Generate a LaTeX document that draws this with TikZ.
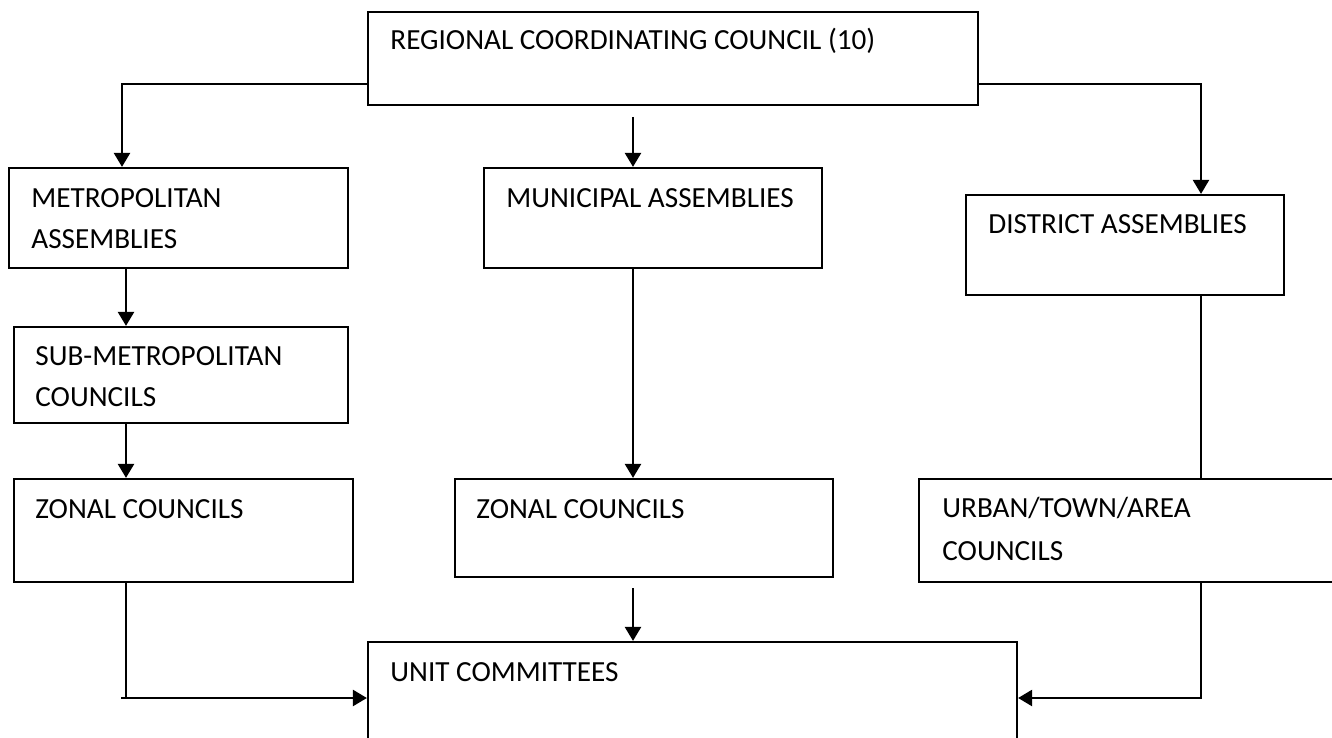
\documentclass[tikz,border=0pt]{standalone}
\usepackage{fontspec}
\setmainfont{Carlito}
\usetikzlibrary{arrows.meta}
\begin{document}
\begin{tikzpicture}[x=0.5pt,y=-0.5pt,
  box/.style={draw,line width=1.1pt,rectangle,inner sep=0pt},
  txt/.style={anchor=base west,inner sep=0pt,font=\fontsize{14.6pt}{20.5pt}\selectfont},
  conn/.style={line width=1.2pt},
  arr/.style={line width=1.2pt,-{Triangle[length=7pt,width=8pt]}}]
\useasboundingbox (0,0) rectangle (1332,738);
% boxes
\node[box,minimum width=305pt,minimum height=46.5pt] (top) at (673,58.5) {};
\node[box,minimum width=169.5pt,minimum height=50pt] (metro) at (178.5,218) {};
\node[box,minimum width=167pt,minimum height=48pt] (sub) at (181,375) {};
\node[box,minimum width=169.5pt,minimum height=51.5pt] (zl) at (183.5,530.5) {};
\node[box,minimum width=169pt,minimum height=50pt] (muni) at (653,218) {};
\node[box,minimum width=189pt,minimum height=49pt] (zm) at (644,528) {};
\node[box,minimum width=159pt,minimum height=50pt] (dist) at (1125,245) {};
\node[box,minimum width=213pt,minimum height=51.5pt] (urban) at (1132,530.5) {};
\node[box,minimum width=324.5pt,minimum height=56pt] (unit) at (692.5,698) {};
% texts
\node[txt] (t1) at (390,50) {REGIONAL COORDINATING COUNCIL (10)};
\node[txt] (t2) at (31,207) {METROPOLITAN};
\node[txt] (t3) at (31,248) {ASSEMBLIES};
\node[txt] (t4) at (35,365) {SUB-METROPOLITAN};
\node[txt] (t5) at (35,406) {COUNCILS};
\node[txt] (t6) at (35,518) {ZONAL COUNCILS};
\node[txt] (t7) at (506,207) {MUNICIPAL ASSEMBLIES};
\node[txt] (t8) at (476,518) {ZONAL COUNCILS};
\node[txt] (t9) at (988,233) {DISTRICT ASSEMBLIES};
\node[txt] (t10) at (942,517) {URBAN/TOWN/AREA};
\node[txt] (t11) at (942,560) {COUNCILS};
\node[txt] (t12) at (390,681) {UNIT COMMITTEES};
% connectors
\coordinate (c1) at (633,117);
\coordinate (c2) at (633,588);
\coordinate (c3) at (121,698);
\draw[arr] (top.west |- 0,84) -| (metro.north -| 122,0);
\draw[arr] (c1) -- (muni.north -| c1);
\draw[arr] (top.east |- 0,84) -| (dist.north -| 1201,0);
\draw[arr] (metro.south -| 126,0) -- (sub.north -| 126,0);
\draw[arr] (sub.south -| 126,0) -- (zl.north -| 126,0);
\draw[arr] (muni.south -| c1) -- (zm.north -| c1);
\draw[conn] (dist.south -| 1201,0) -- (urban.north -| 1201,0);
\draw[arr] (c2) -- (unit.north -| c2);
\draw[conn] (zl.south -| 126,0) -- (126,698);
\draw[arr] (c3) -- (unit.west |- c3);
\draw[arr] (urban.south -| 1201,0) |- (unit.east |- c3);
\end{tikzpicture}
\end{document}
